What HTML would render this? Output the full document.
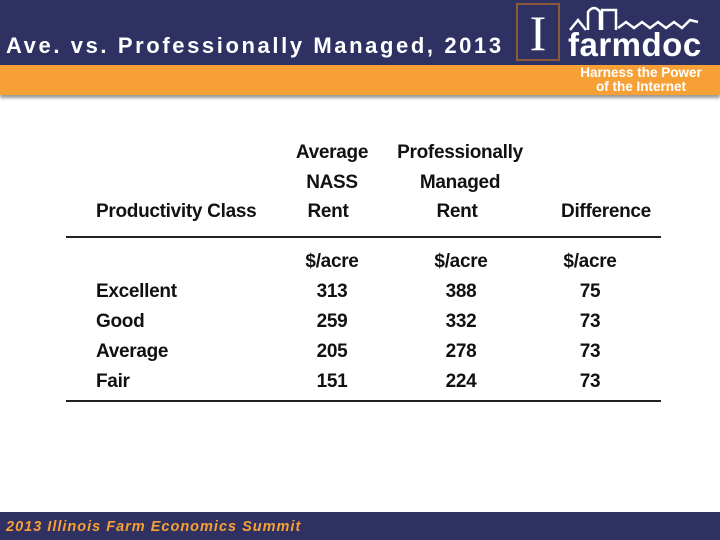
<!DOCTYPE html>
<html><head><meta charset="utf-8"><style>
body{margin:0;width:720px;height:540px;position:relative;background:#fff;font-family:"Liberation Sans",sans-serif;overflow:hidden}
.a{position:absolute}
.t{position:absolute;font-size:19px;font-weight:bold;letter-spacing:-0.3px;color:#111;white-space:nowrap}
.c{text-align:center;transform:translateX(-50%)}
</style></head><body>
<div class="a" style="left:0;top:0;width:720px;height:65px;background:#2f3163"></div>
<div class="a" style="left:0;top:65px;width:720px;height:30px;background:#f7a035;box-shadow:0 3px 3px #999"></div>
<div class="a" style="left:6px;top:33px;color:#fff;font-weight:bold;font-size:22px;letter-spacing:2.6px">Ave. vs. Professionally Managed, 2013</div>
<div class="a" style="left:516px;top:3px;width:44px;height:58px;border:2px solid #8a5a3a;box-sizing:border-box;color:#fff;font-family:'Liberation Serif',serif;font-size:50px;text-align:center;line-height:56px">I</div>
<div class="a" style="left:568px;top:26px;color:#fff;font-weight:bold;font-size:33px;letter-spacing:0.5px">farmdoc</div>
<svg class="a" style="left:568px;top:2px" width="150" height="30"><path d="M2 28 L10 18 L18 28 M20 28 V10 Q26 2 32 10 V28 M34 28 V8 H48 V28 M50 26 l8-6 8 6 8-6 8 6 8-6 8 6 8-6 8 6 8-8 8 2" stroke="#fff" stroke-width="2.5" fill="none"/></svg>
<div class="a" style="left:566px;top:66px;width:150px;text-align:center;color:#fff;font-weight:bold;font-size:13.5px;line-height:14px">Harness the Power<br>of the Internet</div>

<div class="t c" style="left:332px;top:138px;line-height:30px">Average<br>NASS</div>
<div class="t c" style="left:460px;top:138px;line-height:30px">Professionally<br>Managed</div>
<div class="t" style="left:96px;top:201px">Productivity Class</div>
<div class="t c" style="left:328px;top:201px">Rent</div>
<div class="t c" style="left:457px;top:201px">Rent</div>
<div class="t c" style="left:606px;top:201px">Difference</div>
<div class="a" style="left:66px;top:236px;width:595px;height:1.5px;background:#222"></div>
<div class="a" style="left:66px;top:400px;width:595px;height:1.5px;background:#222"></div>
<div id="rows"></div>
<div class="a" style="left:0;top:512px;width:720px;height:28px;background:#2f3163"></div>
<div class="a" style="left:6px;top:519px;color:#f7a035;font-weight:bold;font-style:italic;font-size:14.5px;letter-spacing:1px">2013 Illinois Farm Economics Summit</div>
<script>
const classes=["","Excellent","Good","Average","Fair"];
const nass=["$/acre","313","259","205","151"];
const pm=["$/acre","388","332","278","224"];
const diff=["$/acre","75","73","73","73"];
const r=document.getElementById('rows');
function cell(txt,x,y,center,name){const d=document.createElement('div');d.className='t'+(center?' c':'');d.style.left=x+'px';d.style.top=y+'px';d.textContent=txt;


r.appendChild(d);}
for(let i=0;i<classes.length;i++){const y=251+i*30;
if(classes[i])cell(classes[i],96,y,false,'class-label');
cell(nass[i],332,y,true,'nass-rent');
cell(pm[i],461,y,true,'pm-rent');
cell(diff[i],590,y,true,'difference');}
</script>
</body></html>
